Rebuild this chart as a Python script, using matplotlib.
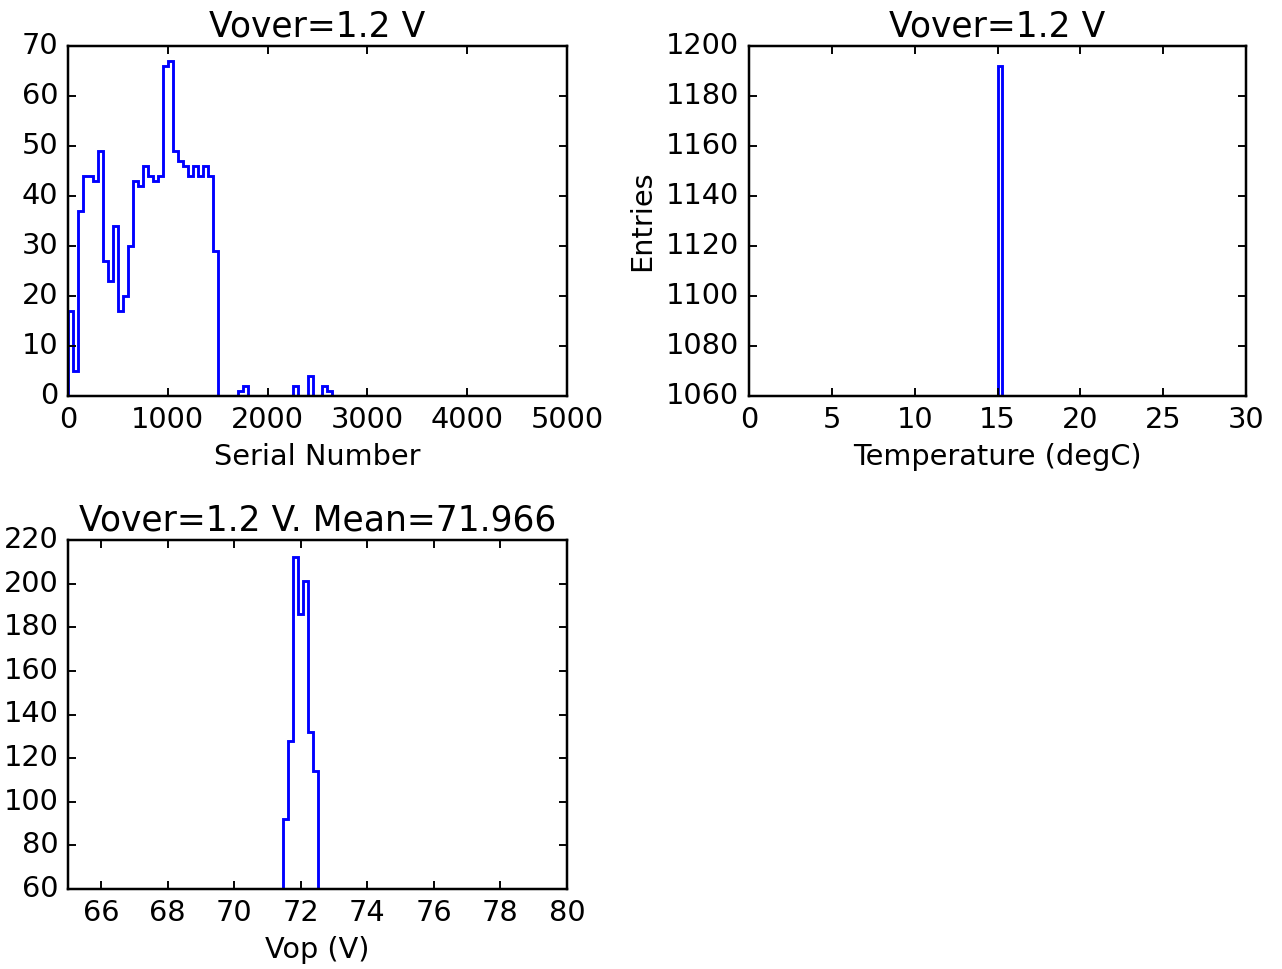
import numpy as np
import matplotlib
matplotlib.use("Agg")
import matplotlib.pyplot as plt

# ---- data ----
serial_edges = np.arange(0, 5001, 50)
serial_counts = [17, 5, 37, 44, 44, 43, 49, 27, 23, 34,
                 17, 20, 30, 43, 42, 46, 44, 43, 44, 66,
                 67, 49, 47, 46, 44, 46, 44, 46, 44, 29,
                 0, 0, 0, 0, 1, 2, 0, 0, 0, 0,
                 0, 0, 0, 0, 0, 2, 0, 0, 4, 0,
                 0, 2, 1]
serial_counts = serial_counts + [0] * (len(serial_edges) - 1 - len(serial_counts))

temp_edges = [15.0, 15.3]
temp_counts = [1192]

vop_edges = [71.45, 71.60, 71.75, 71.90, 72.05, 72.20, 72.35, 72.50]
vop_counts = [92, 128, 212, 186, 201, 132, 114]

title_top = "Vover=1.2 V"
title_vop = "Vover=1.2 V. Mean=71.966"

# ---- style ----
plt.style.use('classic')
plt.rcParams['font.family'] = ['DejaVu Sans']
plt.rcParams['font.size'] = 15
plt.rcParams['axes.titlesize'] = 18
plt.rcParams['axes.linewidth'] = 1.3
plt.rcParams['xtick.major.width'] = 1.0
plt.rcParams['ytick.major.width'] = 1.0
plt.rcParams['xtick.major.pad'] = 5
plt.rcParams['ytick.major.pad'] = 5
DPI = 138
fig = plt.figure(figsize=(1282 / DPI, 969 / DPI), dpi=DPI, facecolor='white')

W, H = 1282.0, 969.0
def pos(x0, y0, x1, y1):
    return [x0 / W, 1 - y1 / H, (x1 - x0) / W, (y1 - y0) / H]

ax1 = fig.add_axes(pos(68, 46, 567, 396))
ax2 = fig.add_axes(pos(749, 46, 1246, 396))
ax3 = fig.add_axes(pos(68, 540, 567, 889))

for ax in (ax1, ax2, ax3):
    ax.set_facecolor('white')

LW = 1.5
ax1.stairs(serial_counts, serial_edges, color='blue', linewidth=LW)
ax1.set_xlim(0, 5000)
ax1.set_ylim(0, 70)
ax1.set_xticks([0, 1000, 2000, 3000, 4000, 5000])
ax1.set_yticks(range(0, 71, 10))
ax1.set_xlabel("Serial Number")
ax1.set_title(title_top)

ax2.stairs(temp_counts, temp_edges, color='blue', linewidth=LW, baseline=0)
ax2.set_xlim(0, 30)
ax2.set_ylim(1060, 1200)
ax2.set_xticks(range(0, 31, 5))
ax2.set_yticks(range(1060, 1201, 20))
ax2.set_xlabel("Temperature (degC)")
ax2.set_ylabel("Entries")
ax2.set_title(title_top)

ax3.stairs(vop_counts, vop_edges, color='blue', linewidth=LW, baseline=0)
ax3.set_xlim(65, 80)
ax3.set_ylim(60, 220)
ax3.set_xticks(range(66, 81, 2))
ax3.set_yticks(range(60, 221, 20))
ax3.set_xlabel("Vop (V)")
ax3.set_title(title_vop)

fig.savefig("out.png", dpi=DPI, facecolor='white')
